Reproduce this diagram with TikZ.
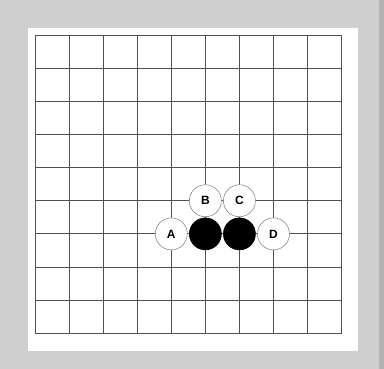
\documentclass[tikz,border=0pt]{standalone}
\usepackage{fontspec}
\setsansfont{Liberation Sans}
\usepackage{xcolor}
\usepackage{tikz}
\definecolor{cornice}{HTML}{CFCFCF}
\definecolor{ombra}{HTML}{B2B2B2}
\definecolor{linea}{HTML}{505050}
\definecolor{bordo}{HTML}{8A8A8A}
\tikzset{
  pietra/.style={circle, draw=bordo, line width=0.6pt, minimum size=32pt, inner sep=0pt,
    font=\sffamily\bfseries\fontsize{12}{12}\selectfont},
  bianca/.style={pietra, fill=white},
  nera/.style={pietra, draw=black, fill=black}
}

\begin{document}
\begin{tikzpicture}[x=1pt, y=1pt]
        \def\ox{35}     % primo punto della griglia (x)
        \def\oy{334}    % primo punto della griglia (y)
        \def\dx{34.07}  % passo orizzontale
        \def\dy{33.15}  % passo verticale

        % Cornice e tavola
        \useasboundingbox (0,0) rectangle (384,369);
        \fill[cornice] (0,0) rectangle (384,369);
        \fill[ombra] (379,0) rectangle (384,369);
        \fill[white] (28,18) rectangle (358,341);

        % Griglia 10 x 10
        \foreach \i in {0,...,9} {
            \draw[linea, line width=0.8pt]
            (\ox+\i*\dx, \oy) -- (\ox+\i*\dx, \oy-9*\dy);
            \draw[linea, line width=0.8pt]
            (\ox, \oy-\i*\dy) -- (\ox+9*\dx, \oy-\i*\dy);
        }

        % Pietre nere
        \node[nera] (n1) at (\ox+5*\dx, \oy-6*\dy) {};
        \node[nera] (n2) at (\ox+6*\dx, \oy-6*\dy) {};

        % Punti A, B, C, D
        \node[bianca] (A) at (\ox+4*\dx, \oy-6*\dy) {A};
        \node[bianca] (B) at (\ox+5*\dx, \oy-5*\dy) {B};
        \node[bianca] (C) at (\ox+6*\dx, \oy-5*\dy) {C};
        \node[bianca] (D) at (\ox+7*\dx, \oy-6*\dy) {D};
    \end{tikzpicture}
\end{document}
